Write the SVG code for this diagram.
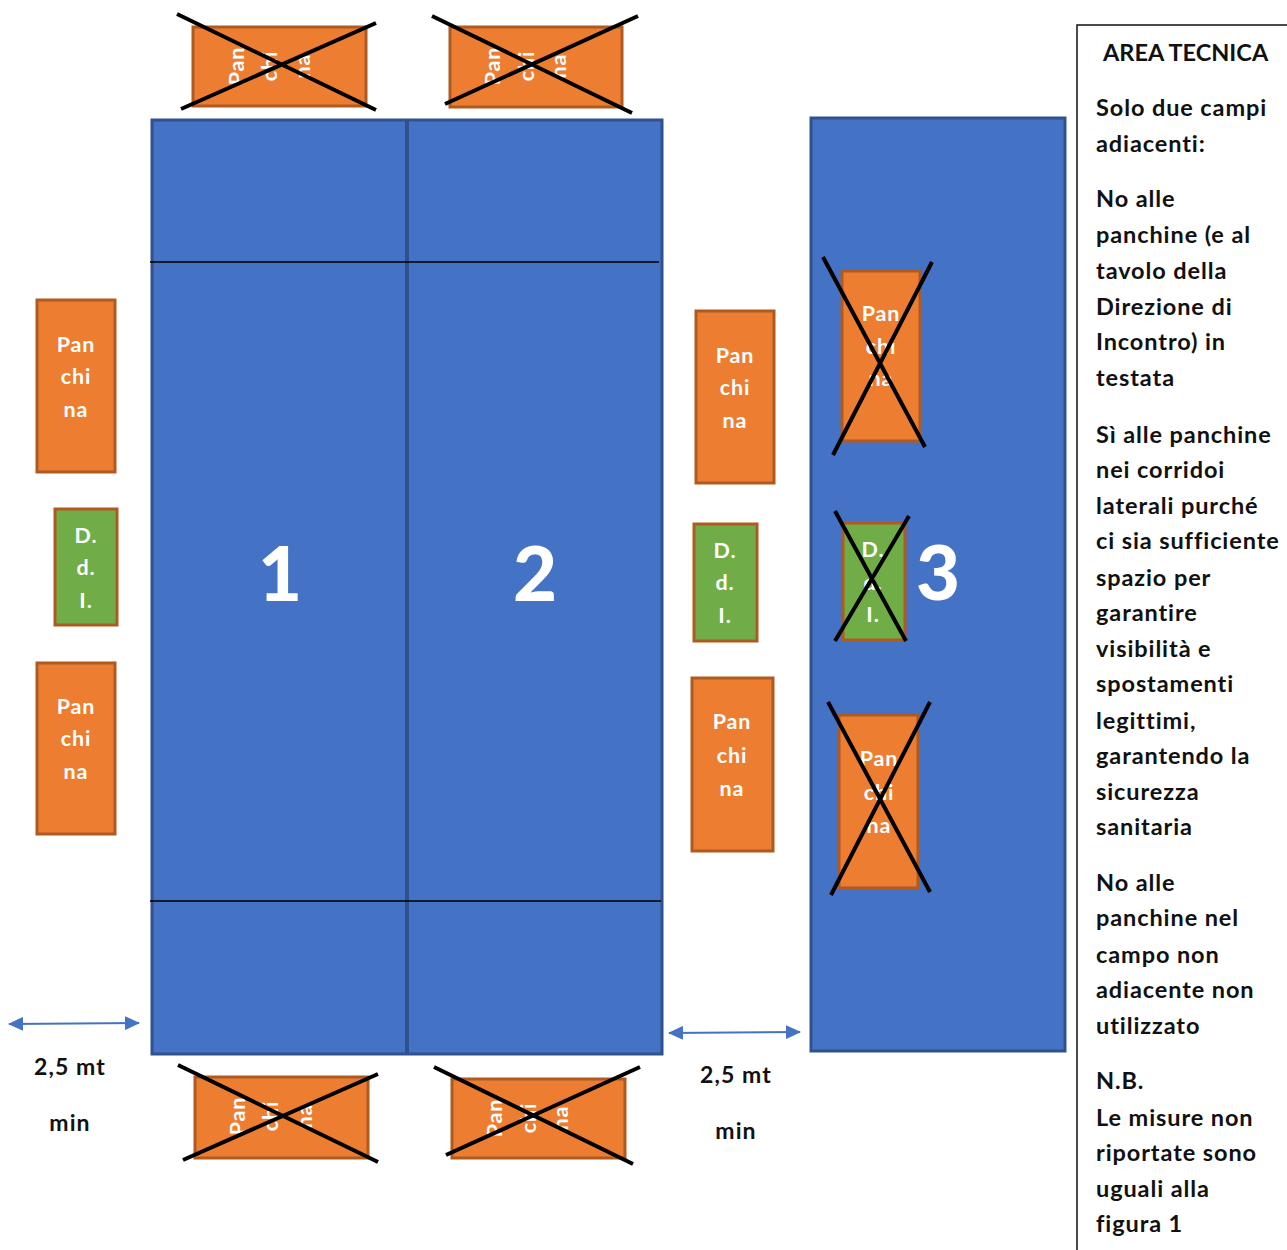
<svg xmlns="http://www.w3.org/2000/svg" width="1287" height="1250" viewBox="0 0 1287 1250">
<defs>
<marker id="ah" markerUnits="userSpaceOnUse" markerWidth="15" markerHeight="14" refX="14" refY="7" orient="auto-start-reverse"><path d="M0 0L15 7L0 14Z" fill="#4472c4"/></marker>
</defs>
<style>
text{font-family:"Lato","Carlito","Liberation Sans",sans-serif}
.court{fill:#4472c4;stroke:#2f528f;stroke-width:3}
.o{fill:#ed7d31;stroke:#ae5a21;stroke-width:3}
.g{fill:#70ad47;stroke:#ae5a21;stroke-width:3}
.w{fill:#fff;font-size:21.5px;font-weight:700;text-anchor:middle;letter-spacing:.9px}
.n{fill:#fff;font-size:76px;font-weight:900;text-anchor:middle}
.x{stroke:#000;stroke-width:4;fill:none}
.t{fill:#111;font-size:23.5px;font-weight:700;letter-spacing:.9px}
.h{fill:#111;font-size:23.5px;font-weight:700}
.d{fill:#111;font-size:23px;font-weight:700;text-anchor:middle;letter-spacing:1.1px}
.l{stroke:#000;stroke-width:1.5}
.a{stroke:#4472c4;stroke-width:2;fill:none;marker-start:url(#ah);marker-end:url(#ah)}
</style>
<g id="court-1-2">
<rect class="court" x="152" y="120" width="510" height="934"/>
<line x1="407" y1="120" x2="407" y2="1054" stroke="#2f528f" stroke-width="4"/>
<line class="l" x1="150" y1="262" x2="659" y2="262"/>
<line class="l" x1="150" y1="901" x2="661" y2="901"/>
<text class="n" x="280" y="601">1</text>
<text class="n" x="535" y="601">2</text>
</g>
<g id="court-3">
<rect class="court" x="811" y="118" width="254" height="933"/>
<text class="n" x="938" y="600">3</text>
</g>
<g id="panchina-top-1">
<rect class="o" x="193" y="27" width="173" height="79"/>
<text class="w" transform="translate(244,66) rotate(-90)">Pan</text><text class="w" transform="translate(277,66) rotate(-90)">chi</text><text class="w" transform="translate(310,66) rotate(-90)">na</text>
</g>
<g id="panchina-top-2">
<rect class="o" x="450" y="27" width="172" height="80"/>
<text class="w" transform="translate(500,66) rotate(-90)">Pan</text><text class="w" transform="translate(534,66) rotate(-90)">chi</text><text class="w" transform="translate(566,66) rotate(-90)">na</text>
</g>
<g id="panchina-bottom-1">
<rect class="o" x="195" y="1077" width="173" height="81"/>
<text class="w" transform="translate(245,1116) rotate(-90)">Pan</text><text class="w" transform="translate(278,1116) rotate(-90)">chi</text><text class="w" transform="translate(312,1116) rotate(-90)">na</text>
</g>
<g id="panchina-bottom-2">
<rect class="o" x="452" y="1079" width="173" height="79"/>
<text class="w" transform="translate(502,1118) rotate(-90)">Pan</text><text class="w" transform="translate(536,1118) rotate(-90)">chi</text><text class="w" transform="translate(568,1118) rotate(-90)">na</text>
</g>
<g id="panchina-left-1">
<rect class="o" x="37" y="300" width="78" height="172"/>
<text class="w" x="76" y="352">Pan</text><text class="w" x="76" y="384">chi</text><text class="w" x="76" y="417">na</text>
</g>
<g id="ddi-left">
<rect class="g" x="55" y="509" width="62" height="116"/>
<text class="w" x="86" y="543">D.</text><text class="w" x="86" y="575">d.</text><text class="w" x="86" y="608">I.</text>
</g>
<g id="panchina-left-2">
<rect class="o" x="37" y="663" width="78" height="171"/>
<text class="w" x="76" y="714">Pan</text><text class="w" x="76" y="746">chi</text><text class="w" x="76" y="779">na</text>
</g>
<g id="panchina-mid-1">
<rect class="o" x="696" y="311" width="78" height="172"/>
<text class="w" x="735" y="363">Pan</text><text class="w" x="735" y="395">chi</text><text class="w" x="735" y="428">na</text>
</g>
<g id="ddi-mid">
<rect class="g" x="694" y="524" width="63" height="117"/>
<text class="w" x="725" y="558">D.</text><text class="w" x="725" y="590">d.</text><text class="w" x="725" y="623">I.</text>
</g>
<g id="panchina-mid-2">
<rect class="o" x="692" y="678" width="81" height="173"/>
<text class="w" x="732" y="729">Pan</text><text class="w" x="732" y="763">chi</text><text class="w" x="732" y="796">na</text>
</g>
<g id="panchina-right-1">
<rect class="o" x="842" y="271" width="78" height="170"/>
<text class="w" x="881" y="321">Pan</text><text class="w" x="881" y="354">chi</text><text class="w" x="881" y="386">na</text>
</g>
<g id="ddi-right">
<rect class="g" x="843" y="523" width="62" height="117"/>
<text class="w" x="873" y="557">D.</text><text class="w" x="873" y="590">d.</text><text class="w" x="873" y="622">I.</text>
</g>
<g id="panchina-right-2">
<rect class="o" x="839" y="715" width="79" height="173"/>
<text class="w" x="879" y="766">Pan</text><text class="w" x="879" y="800">chi</text><text class="w" x="879" y="833">na</text>
</g>
<g id="connectors">
<path class="x" d="M177 14L376 110M376 23L181 109"/>
<path class="x" d="M432 16L632 113M638 16L445 104"/>
<path class="x" d="M178 1065L378 1162M378 1074L183 1160"/>
<path class="x" d="M434 1067L633 1164M640 1067L446 1155"/>
<path class="x" d="M823 257L925 447M932 262L833 455"/>
<path class="x" d="M835 511L906 641M909 516L835 641"/>
<path class="x" d="M828 702L930 892M930 702L831 895"/>
<line class="a" x1="9" y1="1024" x2="139" y2="1023"/>
<line class="a" x1="669" y1="1033" x2="800" y2="1032"/>
</g>
<g id="labels">
<text class="d" x="70" y="1075">2,5 mt</text>
<text class="d" x="70" y="1131">min</text>
<text class="d" x="736" y="1083">2,5 mt</text>
<text class="d" x="736" y="1139">min</text>
</g>
<g id="area-tecnica">
<path d="M1287 25H1077V1250" fill="#fff" stroke="#111" stroke-width="1.5"/>
<text class="h" x="1103" y="61">AREA TECNICA</text>
<text class="t" x="1096" y="116">Solo due campi</text>
<text class="t" x="1096" y="152">adiacenti:</text>
<text class="t" x="1096" y="207">No alle</text>
<text class="t" x="1096" y="243">panchine (e al</text>
<text class="t" x="1096" y="279">tavolo della</text>
<text class="t" x="1096" y="315">Direzione di</text>
<text class="t" x="1096" y="350">Incontro) in</text>
<text class="t" x="1096" y="386">testata</text>
<text class="t" x="1096" y="443">Sì alle panchine</text>
<text class="t" x="1096" y="478">nei corridoi</text>
<text class="t" x="1096" y="514">laterali purché</text>
<text class="t" x="1096" y="549">ci sia sufficiente</text>
<text class="t" x="1096" y="586">spazio per</text>
<text class="t" x="1096" y="621">garantire</text>
<text class="t" x="1096" y="657">visibilità e</text>
<text class="t" x="1096" y="692">spostamenti</text>
<text class="t" x="1096" y="729">legittimi,</text>
<text class="t" x="1096" y="764">garantendo la</text>
<text class="t" x="1096" y="800">sicurezza</text>
<text class="t" x="1096" y="835">sanitaria</text>
<text class="t" x="1096" y="891">No alle</text>
<text class="t" x="1096" y="926">panchine nel</text>
<text class="t" x="1096" y="963">campo non</text>
<text class="t" x="1096" y="998">adiacente non</text>
<text class="t" x="1096" y="1034">utilizzato</text>
<text class="t" x="1096" y="1089">N.B.</text>
<text class="t" x="1096" y="1126">Le misure non</text>
<text class="t" x="1096" y="1161">riportate sono</text>
<text class="t" x="1096" y="1197">uguali alla</text>
<text class="t" x="1096" y="1232">figura 1</text>
</g>
</svg>
